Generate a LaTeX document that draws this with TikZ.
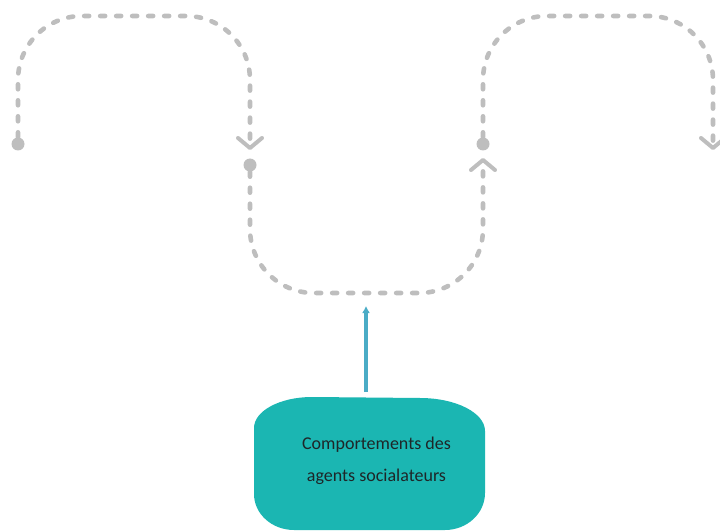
\documentclass[tikz,border=0pt]{standalone}
\usepackage{fontspec}
\setmainfont{Carlito}
\usetikzlibrary{arrows.meta}
\definecolor{dashgray}{RGB}{190,190,190}
\definecolor{tealfill}{RGB}{27,182,178}
\definecolor{arrowblue}{RGB}{75,172,198}
\definecolor{txt}{RGB}{30,38,40}
\begin{document}
\begin{tikzpicture}[x=1pt,y=1pt,
  flow/.style={draw=dashgray, line width=4.6pt, line cap=round,
    dash pattern=on 5pt off 11pt, rounded corners=64pt,
    -{Straight Barb[round,length=10pt,width=24pt,line width=4pt]}},
  dot/.style={circle, fill=dashgray, inner sep=0pt, minimum size=13pt},
  lbl/.style={font=\fontsize{18}{20}\selectfont, text=txt, inner sep=0pt},
  link/.style={draw=arrowblue, line width=3.3pt, -{Latex[length=7pt,width=8pt]}}]
\useasboundingbox (0,0) rectangle (720,531);
% dots and arrow ends
\node[dot] (d1) at (18,387) {};
\node[dot] (d2) at (250,366) {};
\node[dot] (d3) at (483,387) {};
\coordinate (e1) at (250,381);
\coordinate (e2) at (483,373);
\coordinate (e3) at (713,381);
% dashed cycle arcs
\draw[flow] (d1.north) -- (18,515) -- (250,515) -- (e1);
\draw[flow] (d2.south) -- (250,238) -- (483,238) -- (e2);
\draw[flow] (d3.north) -- (483,515) -- (713,515) -- (e3);
% teal blob
\fill[tealfill] (254,103) arc[start angle=180,end angle=90,x radius=58,y radius=31]
  -- (420,133) arc[start angle=90,end angle=0,x radius=65,y radius=33]
  -- (485,38) arc[start angle=0,end angle=-90,x radius=40,y radius=37]
  -- (294,1) arc[start angle=270,end angle=180,x radius=40,y radius=36] -- cycle;
\node[lbl, anchor=base] (t1) at (376.5,82) {Comportements des};
\node[lbl, anchor=base] (t2) at (376.5,50) {agents socialateurs};
% blue arrow
\coordinate (abase) at (366,139);
\coordinate (atip) at (366,225);
\draw[link] (abase) -- (atip);
\end{tikzpicture}
\end{document}
